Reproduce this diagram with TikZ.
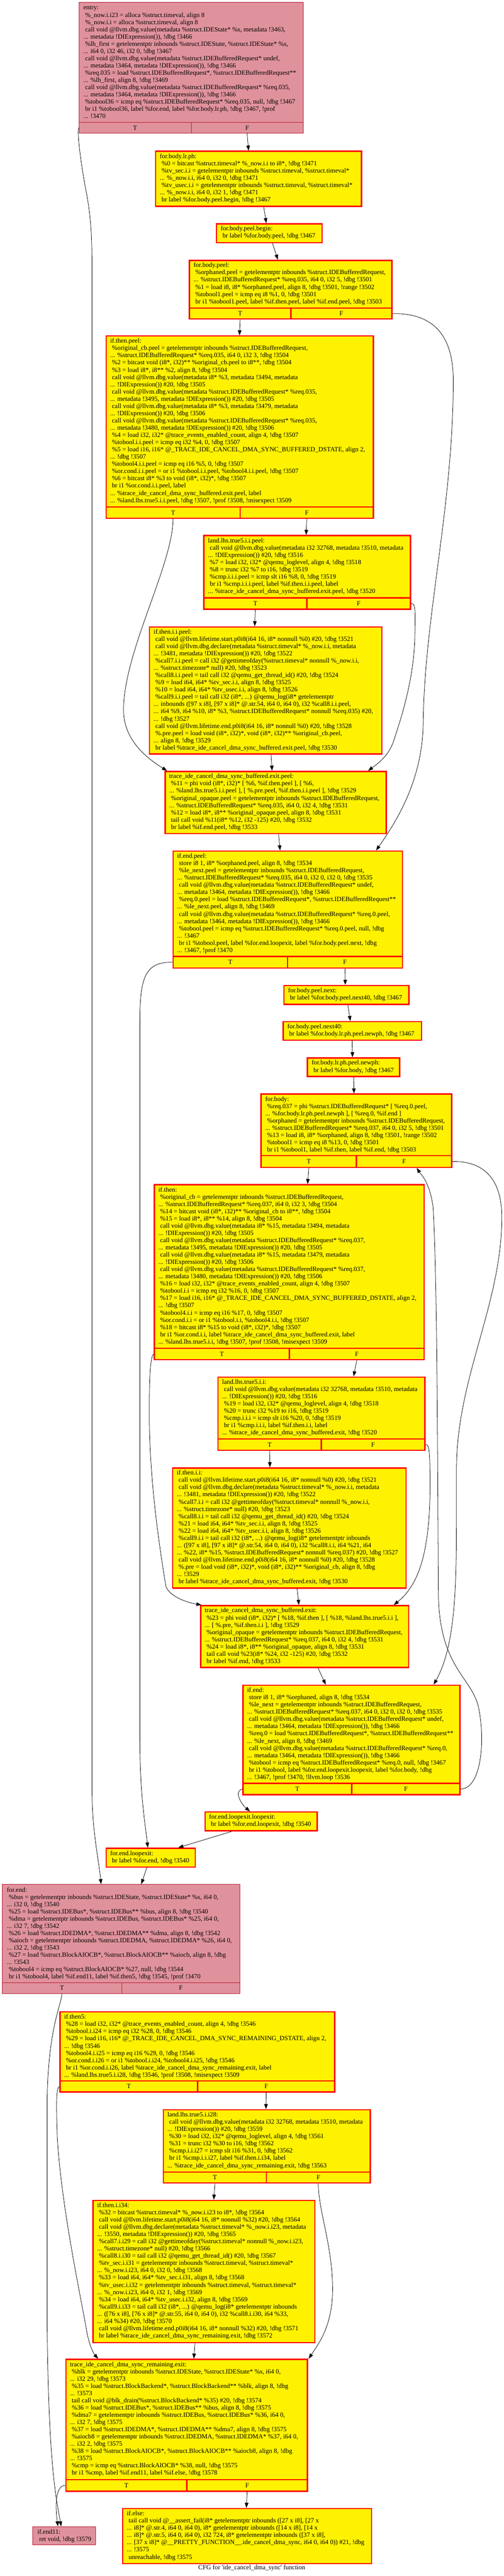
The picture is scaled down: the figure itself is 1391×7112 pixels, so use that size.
\documentclass[tikz,border=0pt]{standalone}
\usepackage{fontspec}
\setmainfont{Liberation Serif}[Ligatures=TeXOff]
\usetikzlibrary{arrows.meta}
\definecolor{pinkfill}{RGB}{224,146,156}
\definecolor{pinkline}{RGB}{185,25,50}
\newcommand\ind{\hspace*{5pt}}
\tikzset{
 pinkbox/.style={draw=pinkline, fill=pinkfill, line width=1.2pt, inner sep=0pt, font=\fontsize{18}{20}\selectfont},
 yelbox/.style={draw=red, fill=yellow, line width=3.5pt, inner sep=0pt, font=\fontsize{18}{20}\selectfont},
 txt/.style={anchor=base west, inner sep=0pt, font=\fontsize{18}{20}\selectfont},
 edge/.style={draw=black, line width=1.1pt, -{Triangle[length=14pt,width=10pt]}},
}
\newcommand\plainblk[7]{%
  \node[#2, anchor=north west, minimum width={#5pt-#3pt}, minimum height={#6pt-#4pt}] (#1) at (#3,#4) {};
  \node[txt] (#1-text) at ({#3+13},{#4+21}) {\begin{tabular}[t]{@{}l@{}}#7\end{tabular}};
}
\newcommand\tfblk[9]{%
  \plainblk{#1}{#2}{#3}{#4}{#5}{#6}{#9}
  \node[#2, fill=none, anchor=north west, minimum width={#8pt-#3pt}, minimum height={#6pt-#7pt}] (#1T) at (#3,#7) {T};
  \node[#2, fill=none, anchor=north west, minimum width={#5pt-#8pt}, minimum height={#6pt-#7pt}] (#1F) at (#8,#7) {F};
}
\begin{document}
\begin{tikzpicture}[x=1pt,y=-1pt]
\fill[white] (0,0) rectangle (1391,7112);
\useasboundingbox (0,0) rectangle (1391,7112);

\tfblk{entry}{pinkbox}{217}{6}{836}{367}{337}{527}{%
entry:\\
\ind\%\_now.i.i23 = alloca \%struct.timeval, align 8\\
\ind\%\_now.i.i = alloca \%struct.timeval, align 8\\
\ind call void @llvm.dbg.value(metadata \%struct.IDEState* \%s, metadata !3463,\\
... metadata !DIExpression()), !dbg !3466\\
\ind\%lh\_first = getelementptr inbounds \%struct.IDEState, \%struct.IDEState* \%s,\\
... i64 0, i32 46, i32 0, !dbg !3467\\
\ind call void @llvm.dbg.value(metadata \%struct.IDEBufferedRequest* undef,\\
... metadata !3464, metadata !DIExpression()), !dbg !3466\\
\ind\%req.035 = load \%struct.IDEBufferedRequest*, \%struct.IDEBufferedRequest**\\
... \%lh\_first, align 8, !dbg !3469\\
\ind call void @llvm.dbg.value(metadata \%struct.IDEBufferedRequest* \%req.035,\\
... metadata !3464, metadata !DIExpression()), !dbg !3466\\
\ind\%tobool36 = icmp eq \%struct.IDEBufferedRequest* \%req.035, null, !dbg !3467\\
\ind br i1 \%tobool36, label \%for.end, label \%for.body.lr.ph, !dbg !3467, !prof\\
... !3470}

\plainblk{lrph}{yelbox}{428}{416}{996}{568}{%
for.body.lr.ph:\\
\ind\%0 = bitcast \%struct.timeval* \%\_now.i.i to i8*, !dbg !3471\\
\ind\%tv\_sec.i.i = getelementptr inbounds \%struct.timeval, \%struct.timeval*\\
... \%\_now.i.i, i64 0, i32 0, !dbg !3471\\
\ind\%tv\_usec.i.i = getelementptr inbounds \%struct.timeval, \%struct.timeval*\\
... \%\_now.i.i, i64 0, i32 1, !dbg !3471\\
\ind br label \%for.body.peel.begin, !dbg !3467}

\plainblk{peelbegin}{yelbox}{596}{616}{887}{668}{%
for.body.peel.begin:\\
\ind br label \%for.body.peel, !dbg !3467}

\tfblk{peel}{yelbox}{521}{717}{1080}{879}{849}{801}{%
for.body.peel:\\
\ind\%orphaned.peel = getelementptr inbounds \%struct.IDEBufferedRequest,\\
... \%struct.IDEBufferedRequest* \%req.035, i64 0, i32 5, !dbg !3501\\
\ind\%1 = load i8, i8* \%orphaned.peel, align 8, !dbg !3501, !range !3502\\
\ind\%tobool1.peel = icmp eq i8 \%1, 0, !dbg !3501\\
\ind br i1 \%tobool1.peel, label \%if.then.peel, label \%if.end.peel, !dbg !3503}

\tfblk{ifthenpeel}{yelbox}{291}{926}{1029}{1429}{1398}{661}{%
if.then.peel:\\
\ind\%original\_cb.peel = getelementptr inbounds \%struct.IDEBufferedRequest,\\
... \%struct.IDEBufferedRequest* \%req.035, i64 0, i32 3, !dbg !3504\\
\ind\%2 = bitcast void (i8*, i32)** \%original\_cb.peel to i8**, !dbg !3504\\
\ind\%3 = load i8*, i8** \%2, align 8, !dbg !3504\\
\ind call void @llvm.dbg.value(metadata i8* \%3, metadata !3494, metadata\\
... !DIExpression()) \#20, !dbg !3505\\
\ind call void @llvm.dbg.value(metadata \%struct.IDEBufferedRequest* \%req.035,\\
... metadata !3495, metadata !DIExpression()) \#20, !dbg !3505\\
\ind call void @llvm.dbg.value(metadata i8* \%3, metadata !3479, metadata\\
... !DIExpression()) \#20, !dbg !3506\\
\ind call void @llvm.dbg.value(metadata \%struct.IDEBufferedRequest* \%req.035,\\
... metadata !3480, metadata !DIExpression()) \#20, !dbg !3506\\
\ind\%4 = load i32, i32* @trace\_events\_enabled\_count, align 4, !dbg !3507\\
\ind\%tobool.i.i.peel = icmp eq i32 \%4, 0, !dbg !3507\\
\ind\%5 = load i16, i16* @\_TRACE\_IDE\_CANCEL\_DMA\_SYNC\_BUFFERED\_DSTATE, align 2,\\
... !dbg !3507\\
\ind\%tobool4.i.i.peel = icmp eq i16 \%5, 0, !dbg !3507\\
\ind\%or.cond.i.i.peel = or i1 \%tobool.i.i.peel, \%tobool4.i.i.peel, !dbg !3507\\
\ind\%6 = bitcast i8* \%3 to void (i8*, i32)*, !dbg !3507\\
\ind br i1 \%or.cond.i.i.peel, label\\
... \%trace\_ide\_cancel\_dma\_sync\_buffered.exit.peel, label\\
... \%land.lhs.true5.i.i.peel, !dbg !3507, !prof !3508, !misexpect !3509}

\tfblk{lhspeel}{yelbox}{561}{1477}{1131}{1680}{1649}{845}{%
land.lhs.true5.i.i.peel:\\
\ind call void @llvm.dbg.value(metadata i32 32768, metadata !3510, metadata\\
... !DIExpression()) \#20, !dbg !3516\\
\ind\%7 = load i32, i32* @qemu\_loglevel, align 4, !dbg !3518\\
\ind\%8 = trunc i32 \%7 to i16, !dbg !3519\\
\ind\%cmp.i.i.i.peel = icmp slt i16 \%8, 0, !dbg !3519\\
\ind br i1 \%cmp.i.i.i.peel, label \%if.then.i.i.peel, label\\
... \%trace\_ide\_cancel\_dma\_sync\_buffered.exit.peel, !dbg !3520}

\plainblk{ifthenIIpeel}{yelbox}{411}{1729}{1052}{2080}{%
if.then.i.i.peel:\\
\ind call void @llvm.lifetime.start.p0i8(i64 16, i8* nonnull \%0) \#20, !dbg !3521\\
\ind call void @llvm.dbg.declare(metadata \%struct.timeval* \%\_now.i.i, metadata\\
... !3481, metadata !DIExpression()) \#20, !dbg !3522\\
\ind\%call7.i.i.peel = call i32 @gettimeofday(\%struct.timeval* nonnull \%\_now.i.i,\\
... \%struct.timezone* null) \#20, !dbg !3523\\
\ind\%call8.i.i.peel = tail call i32 @qemu\_get\_thread\_id() \#20, !dbg !3524\\
\ind\%9 = load i64, i64* \%tv\_sec.i.i, align 8, !dbg !3525\\
\ind\%10 = load i64, i64* \%tv\_usec.i.i, align 8, !dbg !3526\\
\ind\%call9.i.i.peel = tail call i32 (i8*, ...) @qemu\_log(i8* getelementptr\\
... inbounds ([97 x i8], [97 x i8]* @.str.54, i64 0, i64 0), i32 \%call8.i.i.peel,\\
... i64 \%9, i64 \%10, i8* \%3, \%struct.IDEBufferedRequest* nonnull \%req.035) \#20,\\
... !dbg !3527\\
\ind call void @llvm.lifetime.end.p0i8(i64 16, i8* nonnull \%0) \#20, !dbg !3528\\
\ind\%.pre.peel = load void (i8*, i32)*, void (i8*, i32)** \%original\_cb.peel,\\
... align 8, !dbg !3529\\
\ind br label \%trace\_ide\_cancel\_dma\_sync\_buffered.exit.peel, !dbg !3530}

\plainblk{traceexitpeel}{yelbox}{454}{2128}{1064}{2300}{%
trace\_ide\_cancel\_dma\_sync\_buffered.exit.peel:\\
\ind\%11 = phi void (i8*, i32)* [ \%6, \%if.then.peel ], [ \%6,\\
... \%land.lhs.true5.i.i.peel ], [ \%.pre.peel, \%if.then.i.i.peel ], !dbg !3529\\
\ind\%original\_opaque.peel = getelementptr inbounds \%struct.IDEBufferedRequest,\\
... \%struct.IDEBufferedRequest* \%req.035, i64 0, i32 4, !dbg !3531\\
\ind\%12 = load i8*, i8** \%original\_opaque.peel, align 8, !dbg !3531\\
\ind tail call void \%11(i8* \%12, i32 -125) \#20, !dbg !3532\\
\ind br label \%if.end.peel, !dbg !3533}

\tfblk{ifendpeel}{yelbox}{476}{2348}{1109}{2671}{2639}{792}{%
if.end.peel:\\
\ind store i8 1, i8* \%orphaned.peel, align 8, !dbg !3534\\
\ind\%le\_next.peel = getelementptr inbounds \%struct.IDEBufferedRequest,\\
... \%struct.IDEBufferedRequest* \%req.035, i64 0, i32 0, i32 0, !dbg !3535\\
\ind call void @llvm.dbg.value(metadata \%struct.IDEBufferedRequest* undef,\\
... metadata !3464, metadata !DIExpression()), !dbg !3466\\
\ind\%req.0.peel = load \%struct.IDEBufferedRequest*, \%struct.IDEBufferedRequest**\\
... \%le\_next.peel, align 8, !dbg !3469\\
\ind call void @llvm.dbg.value(metadata \%struct.IDEBufferedRequest* \%req.0.peel,\\
... metadata !3464, metadata !DIExpression()), !dbg !3466\\
\ind\%tobool.peel = icmp eq \%struct.IDEBufferedRequest* \%req.0.peel, null, !dbg\\
... !3467\\
\ind br i1 \%tobool.peel, label \%for.end.loopexit, label \%for.body.peel.next, !dbg\\
... !3467, !prof !3470}

\plainblk{peelnext}{yelbox}{782}{2719}{1127}{2771}{%
for.body.peel.next:\\
\ind br label \%for.body.peel.next40, !dbg !3467}

\plainblk{peelnext40}{yelbox}{780}{2819}{1162}{2870}{%
for.body.peel.next40:\\
\ind br label \%for.body.lr.ph.peel.newph, !dbg !3467}

\plainblk{newph}{yelbox}{847}{2919}{1101}{2970}{%
for.body.lr.ph.peel.newph:\\
\ind br label \%for.body, !dbg !3467}

\tfblk{forbody}{yelbox}{719}{3019}{1245}{3221}{3189}{982}{%
for.body:\\
\ind\%req.037 = phi \%struct.IDEBufferedRequest* [ \%req.0.peel,\\
... \%for.body.lr.ph.peel.newph ], [ \%req.0, \%if.end ]\\
\ind\%orphaned = getelementptr inbounds \%struct.IDEBufferedRequest,\\
... \%struct.IDEBufferedRequest* \%req.037, i64 0, i32 5, !dbg !3501\\
\ind\%13 = load i8, i8* \%orphaned, align 8, !dbg !3501, !range !3502\\
\ind\%tobool1 = icmp eq i8 \%13, 0, !dbg !3501\\
\ind br i1 \%tobool1, label \%if.then, label \%if.end, !dbg !3503}

\tfblk{ifthen}{yelbox}{424}{3269}{1169}{3752}{3721}{797}{%
if.then:\\
\ind\%original\_cb = getelementptr inbounds \%struct.IDEBufferedRequest,\\
... \%struct.IDEBufferedRequest* \%req.037, i64 0, i32 3, !dbg !3504\\
\ind\%14 = bitcast void (i8*, i32)** \%original\_cb to i8**, !dbg !3504\\
\ind\%15 = load i8*, i8** \%14, align 8, !dbg !3504\\
\ind call void @llvm.dbg.value(metadata i8* \%15, metadata !3494, metadata\\
... !DIExpression()) \#20, !dbg !3505\\
\ind call void @llvm.dbg.value(metadata \%struct.IDEBufferedRequest* \%req.037,\\
... metadata !3495, metadata !DIExpression()) \#20, !dbg !3505\\
\ind call void @llvm.dbg.value(metadata i8* \%15, metadata !3479, metadata\\
... !DIExpression()) \#20, !dbg !3506\\
\ind call void @llvm.dbg.value(metadata \%struct.IDEBufferedRequest* \%req.037,\\
... metadata !3480, metadata !DIExpression()) \#20, !dbg !3506\\
\ind\%16 = load i32, i32* @trace\_events\_enabled\_count, align 4, !dbg !3507\\
\ind\%tobool.i.i = icmp eq i32 \%16, 0, !dbg !3507\\
\ind\%17 = load i16, i16* @\_TRACE\_IDE\_CANCEL\_DMA\_SYNC\_BUFFERED\_DSTATE, align 2,\\
... !dbg !3507\\
\ind\%tobool4.i.i = icmp eq i16 \%17, 0, !dbg !3507\\
\ind\%or.cond.i.i = or i1 \%tobool.i.i, \%tobool4.i.i, !dbg !3507\\
\ind\%18 = bitcast i8* \%15 to void (i8*, i32)*, !dbg !3507\\
\ind br i1 \%or.cond.i.i, label \%trace\_ide\_cancel\_dma\_sync\_buffered.exit, label\\
... \%land.lhs.true5.i.i, !dbg !3507, !prof !3508, !misexpect !3509}

\tfblk{lhs}{yelbox}{600}{3800}{1171}{4002}{3971}{885}{%
land.lhs.true5.i.i:\\
\ind call void @llvm.dbg.value(metadata i32 32768, metadata !3510, metadata\\
... !DIExpression()) \#20, !dbg !3516\\
\ind\%19 = load i32, i32* @qemu\_loglevel, align 4, !dbg !3518\\
\ind\%20 = trunc i32 \%19 to i16, !dbg !3519\\
\ind\%cmp.i.i.i = icmp slt i16 \%20, 0, !dbg !3519\\
\ind br i1 \%cmp.i.i.i, label \%if.then.i.i, label\\
... \%trace\_ide\_cancel\_dma\_sync\_buffered.exit, !dbg !3520}

\plainblk{ifthenII}{yelbox}{475}{4051}{1119}{4383}{%
if.then.i.i:\\
\ind call void @llvm.lifetime.start.p0i8(i64 16, i8* nonnull \%0) \#20, !dbg !3521\\
\ind call void @llvm.dbg.declare(metadata \%struct.timeval* \%\_now.i.i, metadata\\
... !3481, metadata !DIExpression()) \#20, !dbg !3522\\
\ind\%call7.i.i = call i32 @gettimeofday(\%struct.timeval* nonnull \%\_now.i.i,\\
... \%struct.timezone* null) \#20, !dbg !3523\\
\ind\%call8.i.i = tail call i32 @qemu\_get\_thread\_id() \#20, !dbg !3524\\
\ind\%21 = load i64, i64* \%tv\_sec.i.i, align 8, !dbg !3525\\
\ind\%22 = load i64, i64* \%tv\_usec.i.i, align 8, !dbg !3526\\
\ind\%call9.i.i = tail call i32 (i8*, ...) @qemu\_log(i8* getelementptr inbounds\\
... ([97 x i8], [97 x i8]* @.str.54, i64 0, i64 0), i32 \%call8.i.i, i64 \%21, i64\\
... \%22, i8* \%15, \%struct.IDEBufferedRequest* nonnull \%req.037) \#20, !dbg !3527\\
\ind call void @llvm.lifetime.end.p0i8(i64 16, i8* nonnull \%0) \#20, !dbg !3528\\
\ind\%.pre = load void (i8*, i32)*, void (i8*, i32)** \%original\_cb, align 8, !dbg\\
... !3529\\
\ind br label \%trace\_ide\_cancel\_dma\_sync\_buffered.exit, !dbg !3530}

\plainblk{traceexit}{yelbox}{552}{4431}{1126}{4602}{%
trace\_ide\_cancel\_dma\_sync\_buffered.exit:\\
\ind\%23 = phi void (i8*, i32)* [ \%18, \%if.then ], [ \%18, \%land.lhs.true5.i.i ],\\
... [ \%.pre, \%if.then.i.i ], !dbg !3529\\
\ind\%original\_opaque = getelementptr inbounds \%struct.IDEBufferedRequest,\\
... \%struct.IDEBufferedRequest* \%req.037, i64 0, i32 4, !dbg !3531\\
\ind\%24 = load i8*, i8** \%original\_opaque, align 8, !dbg !3531\\
\ind tail call void \%23(i8* \%24, i32 -125) \#20, !dbg !3532\\
\ind br label \%if.end, !dbg !3533}

\tfblk{ifend}{yelbox}{669}{4651}{1268}{4953}{4922}{969}{%
if.end:\\
\ind store i8 1, i8* \%orphaned, align 8, !dbg !3534\\
\ind\%le\_next = getelementptr inbounds \%struct.IDEBufferedRequest,\\
... \%struct.IDEBufferedRequest* \%req.037, i64 0, i32 0, i32 0, !dbg !3535\\
\ind call void @llvm.dbg.value(metadata \%struct.IDEBufferedRequest* undef,\\
... metadata !3464, metadata !DIExpression()), !dbg !3466\\
\ind\%req.0 = load \%struct.IDEBufferedRequest*, \%struct.IDEBufferedRequest**\\
... \%le\_next, align 8, !dbg !3469\\
\ind call void @llvm.dbg.value(metadata \%struct.IDEBufferedRequest* \%req.0,\\
... metadata !3464, metadata !DIExpression()), !dbg !3466\\
\ind\%tobool = icmp eq \%struct.IDEBufferedRequest* \%req.0, null, !dbg !3467\\
\ind br i1 \%tobool, label \%for.end.loopexit.loopexit, label \%for.body, !dbg\\
... !3467, !prof !3470, !llvm.loop !3536}

\plainblk{loopexitloopexit}{yelbox}{564}{5001}{874}{5053}{%
for.end.loopexit.loopexit:\\
\ind br label \%for.end.loopexit, !dbg !3540}

\plainblk{loopexit}{yelbox}{291}{5101}{537}{5153}{%
for.end.loopexit:\\
\ind br label \%for.end, !dbg !3540}

\tfblk{forend}{pinkbox}{6}{5202}{662}{5503}{5473}{335}{%
for.end:\\
\ind\%bus = getelementptr inbounds \%struct.IDEState, \%struct.IDEState* \%s, i64 0,\\
... i32 0, !dbg !3540\\
\ind\%25 = load \%struct.IDEBus*, \%struct.IDEBus** \%bus, align 8, !dbg !3540\\
\ind\%dma = getelementptr inbounds \%struct.IDEBus, \%struct.IDEBus* \%25, i64 0,\\
... i32 7, !dbg !3542\\
\ind\%26 = load \%struct.IDEDMA*, \%struct.IDEDMA** \%dma, align 8, !dbg !3542\\
\ind\%aiocb = getelementptr inbounds \%struct.IDEDMA, \%struct.IDEDMA* \%26, i64 0,\\
... i32 2, !dbg !3543\\
\ind\%27 = load \%struct.BlockAIOCB*, \%struct.BlockAIOCB** \%aiocb, align 8, !dbg\\
... !3543\\
\ind\%tobool4 = icmp eq \%struct.BlockAIOCB* \%27, null, !dbg !3544\\
\ind br i1 \%tobool4, label \%if.end11, label \%if.then5, !dbg !3545, !prof !3470}

\tfblk{ifthen5}{yelbox}{164}{5553}{922}{5774}{5743}{544}{%
if.then5:\\
\ind\%28 = load i32, i32* @trace\_events\_enabled\_count, align 4, !dbg !3546\\
\ind\%tobool.i.i24 = icmp eq i32 \%28, 0, !dbg !3546\\
\ind\%29 = load i16, i16* @\_TRACE\_IDE\_CANCEL\_DMA\_SYNC\_REMAINING\_DSTATE, align 2,\\
... !dbg !3546\\
\ind\%tobool4.i.i25 = icmp eq i16 \%29, 0, !dbg !3546\\
\ind\%or.cond.i.i26 = or i1 \%tobool.i.i24, \%tobool4.i.i25, !dbg !3546\\
\ind br i1 \%or.cond.i.i26, label \%trace\_ide\_cancel\_dma\_sync\_remaining.exit, label\\
... \%land.lhs.true5.i.i28, !dbg !3546, !prof !3508, !misexpect !3509}

\tfblk{lhs28}{yelbox}{449}{5823}{1020}{6025}{5995}{734}{%
land.lhs.true5.i.i28:\\
\ind call void @llvm.dbg.value(metadata i32 32768, metadata !3510, metadata\\
... !DIExpression()) \#20, !dbg !3559\\
\ind\%30 = load i32, i32* @qemu\_loglevel, align 4, !dbg !3561\\
\ind\%31 = trunc i32 \%30 to i16, !dbg !3562\\
\ind\%cmp.i.i.i27 = icmp slt i16 \%31, 0, !dbg !3562\\
\ind br i1 \%cmp.i.i.i27, label \%if.then.i.i34, label\\
... \%trace\_ide\_cancel\_dma\_sync\_remaining.exit, !dbg !3563}

\plainblk{ifthenIIfour}{yelbox}{255}{6073}{867}{6466}{%
if.then.i.i34:\\
\ind\%32 = bitcast \%struct.timeval* \%\_now.i.i23 to i8*, !dbg !3564\\
\ind call void @llvm.lifetime.start.p0i8(i64 16, i8* nonnull \%32) \#20, !dbg !3564\\
\ind call void @llvm.dbg.declare(metadata \%struct.timeval* \%\_now.i.i23, metadata\\
... !3550, metadata !DIExpression()) \#20, !dbg !3565\\
\ind\%call7.i.i29 = call i32 @gettimeofday(\%struct.timeval* nonnull \%\_now.i.i23,\\
... \%struct.timezone* null) \#20, !dbg !3566\\
\ind\%call8.i.i30 = tail call i32 @qemu\_get\_thread\_id() \#20, !dbg !3567\\
\ind\%tv\_sec.i.i31 = getelementptr inbounds \%struct.timeval, \%struct.timeval*\\
... \%\_now.i.i23, i64 0, i32 0, !dbg !3568\\
\ind\%33 = load i64, i64* \%tv\_sec.i.i31, align 8, !dbg !3568\\
\ind\%tv\_usec.i.i32 = getelementptr inbounds \%struct.timeval, \%struct.timeval*\\
... \%\_now.i.i23, i64 0, i32 1, !dbg !3569\\
\ind\%34 = load i64, i64* \%tv\_usec.i.i32, align 8, !dbg !3569\\
\ind\%call9.i.i33 = tail call i32 (i8*, ...) @qemu\_log(i8* getelementptr inbounds\\
... ([76 x i8], [76 x i8]* @.str.55, i64 0, i64 0), i32 \%call8.i.i30, i64 \%33,\\
... i64 \%34) \#20, !dbg !3570\\
\ind call void @llvm.lifetime.end.p0i8(i64 16, i8* nonnull \%32) \#20, !dbg !3571\\
\ind br label \%trace\_ide\_cancel\_dma\_sync\_remaining.exit, !dbg !3572}

\tfblk{remexit}{yelbox}{180}{6512}{847}{6876}{6844}{514}{%
trace\_ide\_cancel\_dma\_sync\_remaining.exit:\\
\ind\%blk = getelementptr inbounds \%struct.IDEState, \%struct.IDEState* \%s, i64 0,\\
... i32 29, !dbg !3573\\
\ind\%35 = load \%struct.BlockBackend*, \%struct.BlockBackend** \%blk, align 8, !dbg\\
... !3573\\
\ind tail call void @blk\_drain(\%struct.BlockBackend* \%35) \#20, !dbg !3574\\
\ind\%36 = load \%struct.IDEBus*, \%struct.IDEBus** \%bus, align 8, !dbg !3575\\
\ind\%dma7 = getelementptr inbounds \%struct.IDEBus, \%struct.IDEBus* \%36, i64 0,\\
... i32 7, !dbg !3575\\
\ind\%37 = load \%struct.IDEDMA*, \%struct.IDEDMA** \%dma7, align 8, !dbg !3575\\
\ind\%aiocb8 = getelementptr inbounds \%struct.IDEDMA, \%struct.IDEDMA* \%37, i64 0,\\
... i32 2, !dbg !3575\\
\ind\%38 = load \%struct.BlockAIOCB*, \%struct.BlockAIOCB** \%aiocb8, align 8, !dbg\\
... !3575\\
\ind\%cmp = icmp eq \%struct.BlockAIOCB* \%38, null, !dbg !3575\\
\ind br i1 \%cmp, label \%if.end11, label \%if.else, !dbg !3578}

\plainblk{ifend11}{pinkbox}{90}{6975}{263}{7025}{%
if.end11:\\
\ind ret void, !dbg !3579}

\plainblk{ifelse}{yelbox}{337}{6924}{1024}{7076}{%
if.else:\\
\ind tail call void @\_\_assert\_fail(i8* getelementptr inbounds ([27 x i8], [27 x\\
... i8]* @.str.4, i64 0, i64 0), i8* getelementptr inbounds ([14 x i8], [14 x\\
... i8]* @.str.5, i64 0, i64 0), i32 724, i8* getelementptr inbounds ([37 x i8],\\
... [37 x i8]* @\_\_PRETTY\_FUNCTION\_\_.ide\_cancel\_dma\_sync, i64 0, i64 0)) \#21, !dbg\\
... !3575\\
\ind unreachable, !dbg !3575}

\node[font=\fontsize{18}{20}\selectfont, inner sep=0pt] (title) at (695,7090) {CFG for 'ide\_cancel\_dma\_sync' function};

% edges
\draw[edge] (entryT.west) .. controls (212,370) and (226,470) .. (240,540) .. controls (252,610) and (254,660) .. (254,760) -- (254,4950) .. controls (255,5060) and (272,5130) .. ([xshift=273pt]forend.north west);
\draw[edge] (entryF.south) -- ([xshift=258pt]lrph.north west);
\draw[edge] ([xshift=300pt]lrph.south west) -- ([xshift=139pt]peelbegin.north west);
\draw[edge] ([xshift=156pt]peelbegin.south west) -- ([xshift=246pt]peel.north west);
\draw[edge] (peelT.south) -- ([xshift=370pt]ifthenpeel.north west);
\draw[edge] (peelF.east) .. controls (1200,864) and (1251,930) .. (1251,1050) .. controls (1251,1400) and (1171,1700) .. (1168,2000) .. controls (1165,2150) and (1100,2260) .. ([xshift=562pt]ifendpeel.north west);
\draw[edge] (ifthenpeelT.south) .. controls (477,1560) and (341,1800) .. (341,1960) .. controls (341,2040) and (400,2090) .. ([xshift=7pt]traceexitpeel.north west);
\draw[edge] (ifthenpeelF.south) -- ([xshift=284pt]lhspeel.north west);
\draw[edge] (lhspeelT.south) -- ([xshift=292pt]ifthenIIpeel.north west);
\draw[edge] (lhspeelF.east) .. controls (1148,1664) and (1146,1690) .. (1145,1760) .. controls (1142,1880) and (1105,1990) .. (1085,2050) .. controls (1070,2090) and (1040,2110) .. ([xshift=562pt]traceexitpeel.north west);
\draw[edge] ([xshift=337pt]ifthenIIpeel.south west) -- ([xshift=297pt]traceexitpeel.north west);
\draw[edge] ([xshift=315pt]traceexitpeel.south west) -- ([xshift=297pt]ifendpeel.north west);
\draw[edge] (ifendpeelT.west) .. controls (400,2655) and (386,2700) .. (386,2820) -- (386,4800) .. controls (386,4950) and (400,5030) .. ([xshift=117pt]loopexit.north west);
\draw[edge] (ifendpeelF.south) -- ([xshift=171pt]peelnext.north west);
\draw[edge] ([xshift=178pt]peelnext.south west) -- ([xshift=187pt]peelnext40.north west);
\draw[edge] ([xshift=192pt]peelnext40.south west) -- ([xshift=126pt]newph.north west);
\draw[edge] ([xshift=129pt]newph.south west) -- ([xshift=258pt]forbody.north west);
\draw[edge] (forbodyT.south) -- ([xshift=425pt]ifthen.north west);
\draw[edge] (forbodyF.east) .. controls (1340,3205) and (1385,3260) .. (1385,3360) .. controls (1385,3600) and (1262,3800) .. (1260,4050) .. controls (1258,4300) and (1270,4520) .. ([xshift=528pt]ifend.north west);
\draw[edge] (ifendF.east) .. controls (1330,4938) and (1340,4800) .. (1320,4710) .. controls (1300,4630) and (1212,4600) .. (1210,4400) .. controls (1208,4100) and (1207,3500) .. (1195,3330) .. controls (1185,3260) and (1160,3240) .. ([xshift=35pt]forbodyF.south);
\draw[edge] (ifthenT.west) .. controls (415,3745) and (412,3800) .. (412,3900) .. controls (412,4100) and (445,4300) .. (458,4380) .. controls (470,4410) and (520,4425) .. ([xshift=4pt]traceexit.north west);
\draw[edge] (ifthenF.south) -- ([xshift=376pt]lhs.north west);
\draw[edge] (lhsT.south) -- ([xshift=270pt]ifthenII.north west);
\draw[edge] (lhsF.east) .. controls (1185,3986) and (1187,4010) .. (1187,4100) .. controls (1187,4300) and (1150,4380) .. ([xshift=535pt]traceexit.north west);
\draw[edge] ([xshift=345pt]ifthenII.south west) -- ([xshift=273pt]traceexit.north west);
\draw[edge] ([xshift=326pt]traceexit.south west) -- ([xshift=230pt]ifend.north west);
\draw[edge] (ifendT.west) .. controls (645,4945) and (665,4980) .. ([xshift=126pt]loopexitloopexit.north west);
\draw[edge] ([xshift=75pt]loopexitloopexit.south west) -- ([xshift=201pt]loopexit.north west);
\draw[edge] ([xshift=114pt]loopexit.south west) -- ([xshift=384pt]forend.north west);
\draw[edge] (forendT.south) .. controls (168,5540) and (133,5600) .. (130,5800) -- (130,6400) .. controls (133,6800) and (155,6900) .. ([xshift=79pt]ifend11.north west);
\draw[edge] (ifthen5T.west) .. controls (155,5765) and (155,5800) .. (158,5900) .. controls (170,6100) and (225,6350) .. (240,6440) .. controls (248,6480) and (260,6500) .. ([xshift=91pt]remexit.north west);
\draw[edge] (ifthen5F.south) -- ([xshift=285pt]lhs28.north west);
\draw[edge] (lhs28T.south) -- ([xshift=335pt]ifthenIIfour.north west);
\draw[edge] (lhs28F.south) .. controls (878,6100) and (918,6200) .. (918,6320) .. controls (918,6420) and (880,6470) .. ([xshift=672pt]remexit.north west);
\draw[edge] ([xshift=283pt]ifthenIIfour.south west) -- ([xshift=355pt]remexit.north west);
\draw[edge] (remexitT.west) .. controls (158,6862) and (150,6900) .. ([xshift=70pt]ifend11.north west);
\draw[edge] (remexitF.south) -- ([xshift=343pt]ifelse.north west);
\end{tikzpicture}
\end{document}
